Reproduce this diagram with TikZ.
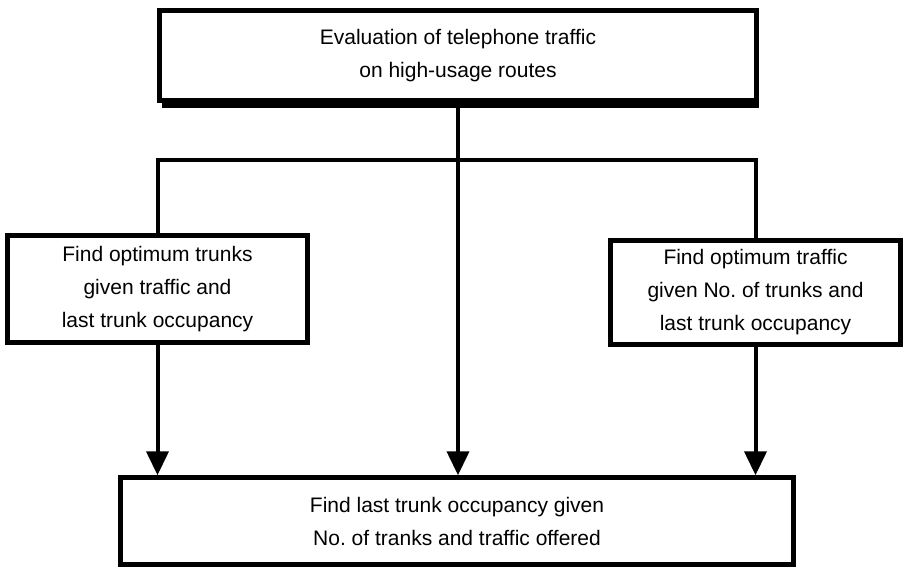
\documentclass[tikz,border=0pt]{standalone}
\usepackage{fontspec}
\setmainfont{Liberation Sans}
\usetikzlibrary{arrows.meta}

\tikzset{
  box/.style={draw, line width=4.5pt, inner sep=0pt, align=center,
    font=\fontsize{21}{33}\selectfont},
  link/.style={line width=4pt, line join=miter},
  flow/.style={link, -{Triangle[width=22pt,length=24pt]}}
}

\begin{document}
\begin{tikzpicture}[x=1pt, y=-1pt]
    \useasboundingbox (0,0) rectangle (905,571);

    \node[box, minimum width=597pt, minimum height=90pt] (Eval) at (458,55.5)
      {Evaluation of telephone traffic\\on high-usage routes};
    \node[box, minimum width=300pt, minimum height=107pt] (Trunks) at (157.5,289)
      {Find optimum trunks\\given traffic and\\last trunk occupancy};
    \node[box, minimum width=290pt, minimum height=104pt] (Traffic) at (755.5,292.5)
      {Find optimum traffic\\given No.\ of trunks and\\last trunk occupancy};
    \node[box, minimum width=673pt, minimum height=87pt] (Occ) at (457,521)
      {Find last trunk occupancy given\\No.\ of tranks and traffic offered};

    % shadow under the top box
    \fill ([xshift=5pt]Eval.south west) rectangle ([yshift=-5pt]Eval.south east);

    \coordinate (Hright) at (Traffic.north |- 0,160);

    \draw[link] (Trunks.north) |- (Hright) -- (Traffic.north);
    \draw[flow] (Eval.south) -- (Eval.south |- Occ.north);
    \draw[flow] (Trunks.south) -- (Trunks.south |- Occ.north);
    \draw[flow] (Traffic.south) -- (Traffic.south |- Occ.north);
  \end{tikzpicture}
\end{document}
